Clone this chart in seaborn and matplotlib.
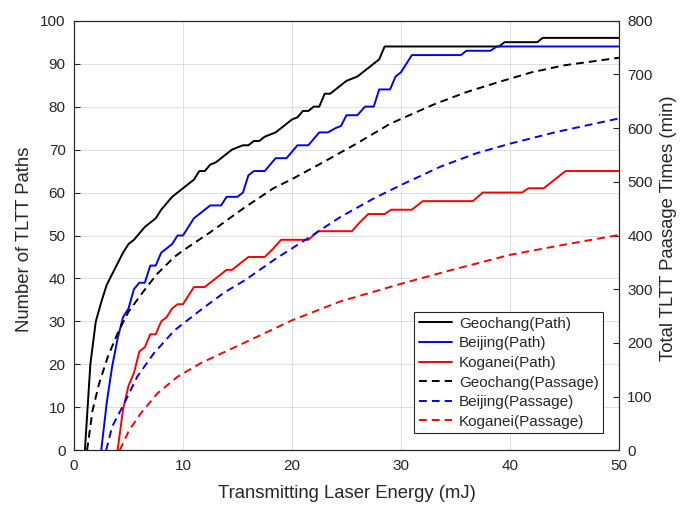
import numpy as np
import pandas as pd
import matplotlib
matplotlib.use("Agg")
import matplotlib.pyplot as plt
import seaborn as sns

# ---------------- data ----------------
geo_path_x = [1.0, 1.5, 2.0, 2.5, 3.0, 3.5, 4.0, 4.5, 5.0, 5.5, 6.0, 6.5, 7.0, 7.5, 8.0, 8.5,
              9.0, 9.5, 10.0, 10.5, 11.0, 11.5, 12.0, 12.5, 13.0, 13.5, 14.0, 14.5, 15.0, 15.5,
              16.0, 16.5, 17.0, 17.5, 18.0, 18.5, 19.0, 19.5, 20.0, 20.5, 21.0, 21.5, 22.0, 22.5,
              23.0, 23.5, 24.0, 24.5, 25.0, 25.5, 26.0, 26.5, 27.0, 27.5, 28.0, 28.5, 39.0, 39.5,
              42.5, 43.0, 50.0]
geo_path_y = [0, 20, 30, 34.5, 38.5, 41, 43.5, 46, 48, 49, 50.5, 52, 53, 54, 56, 57.5,
              59, 60, 61, 62, 63, 65, 65, 66.5, 67, 68, 69, 70, 70.5, 71,
              71, 72, 72, 73, 73.5, 74, 75, 76, 77, 77.5, 79, 79, 80, 80,
              83, 83, 84, 85, 86, 86.5, 87, 88, 89, 90, 91, 94, 94, 95,
              95, 96, 96]

bei_path_x = [2.5, 3.0, 3.5, 4.0, 4.5, 5.0, 5.5, 6.0, 6.5, 7.0, 7.5, 8.0, 8.5, 9.0, 9.5, 10.0,
              10.5, 11.0, 11.5, 12.0, 12.5, 13.5, 14.0, 15.0, 15.5, 16.0, 16.5, 17.5, 18.5, 19.5,
              20.5, 21.5, 22.5, 23.3, 24.0, 24.5, 25.0, 26.0, 26.7, 27.5, 28.0, 29.0, 29.5, 30.0,
              31.0, 35.5, 36.0, 38.2, 38.8, 50.0]
bei_path_y = [0, 11, 19.5, 26, 31, 33, 37.5, 39, 39, 43, 43, 46, 47, 48, 50, 50,
              52, 54, 55, 56, 57, 57, 59, 59, 60, 64, 65, 65, 68, 68,
              71, 71, 74, 74, 75, 75.5, 78, 78, 80, 80, 84, 84, 87, 88,
              92, 92, 93, 93, 94, 94]

kog_path_x = [4.0, 4.5, 5.0, 5.5, 6.0, 6.5, 7.0, 7.5, 8.0, 8.5, 9.0, 9.5, 10.0, 10.5, 11.0, 12.0,
              13.0, 14.0, 14.5, 16.0, 17.5, 18.3, 19.0, 21.5, 22.4, 25.5, 26.2, 27.0, 28.5, 29.1,
              31.0, 32.0, 36.6, 37.5, 41.1, 41.7, 43.1, 45.1, 50.0]
kog_path_y = [0, 9.5, 15, 18, 23, 24, 27, 27, 30, 31, 33, 34, 34, 36, 38, 38,
              40, 42, 42, 45, 45, 47, 49, 49, 51, 51, 53, 55, 55, 56,
              56, 58, 58, 60, 60, 61, 61, 65, 65]

geo_pass_x = [1.2, 1.7, 2.3, 3.1, 4.0, 5.0, 6.3, 7.6, 9.2, 10.0, 12.5, 15.5, 18.3, 20.0, 23.0,
              26.0, 29.0, 33.0, 36.0, 39.0, 42.0, 45.0, 50.0]
geo_pass_y = [0, 74, 124, 174, 218, 258, 294, 328, 360, 372, 406, 450, 488, 505, 538,
              572, 608, 644, 667, 686, 704, 717, 731]

bei_pass_x = [2.95, 3.5, 4.6, 5.8, 7.3, 9.2, 11.6, 13.8, 15.7, 18.6, 20.0, 21.7, 24.4, 27.5,
              30.0, 33.6, 36.9, 40.0, 44.3, 50.0]
bei_pass_y = [0, 44, 87, 137, 180, 223, 261, 294, 317, 358, 376, 398, 434, 469,
              494, 528, 553, 571, 593, 618]

kog_pass_x = [4.2, 5.05, 6.1, 7.65, 9.5, 11.6, 13.8, 15.5, 20.0, 24.4, 30.0, 34.5, 40.0, 45.0, 50.0]
kog_pass_y = [0, 37, 68, 106, 137, 162, 183, 199, 242, 277, 310, 335, 364, 383, 401]

sites = ["Geochang", "Beijing", "Koganei"]
site_colors = ["#000000", "#0000FF", "#FF0000"]

xlabel = "Transmitting Laser Energy (mJ)"
ylabel_left = "Number of TLTT Paths"
ylabel_right = "Total TLTT Paasage Times (min)"

path_data = [(geo_path_x, geo_path_y), (bei_path_x, bei_path_y), (kog_path_x, kog_path_y)]
pass_data = [(geo_pass_x, geo_pass_y), (bei_pass_x, bei_pass_y), (kog_pass_x, kog_pass_y)]

# ---------------- style ----------------
sns.set_theme(style="white")
plt.rcParams["font.family"] = ["Liberation Sans", "DejaVu Sans"]
dark = "#262626"

fig = plt.figure(figsize=(6.84, 5.07), dpi=100)
ax = fig.add_axes([74 / 684, 1 - 450.3 / 507, 545 / 684, 429.6 / 507])
ax2 = ax.twinx()

lw = 1.4
for site, col, (px, py) in zip(sites, site_colors, path_data):
    df = pd.DataFrame({"x": px, "y": py})
    sns.lineplot(data=df, x="x", y="y", ax=ax, color=col, linewidth=lw,
                 estimator=None, sort=False, label=f"{site}(Path)", legend=False)

for site, col, (px, py) in zip(sites, site_colors, pass_data):
    df = pd.DataFrame({"x": px, "y": py})
    sns.lineplot(data=df, x="x", y="y", ax=ax2, color=col, linewidth=lw,
                 estimator=None, sort=False, label=f"{site}(Passage)", legend=False,
                 dashes=False)
for line in ax2.get_lines():
    line.set_dashes((4, 2.6))

ax.set_xlim(0, 50)
ax.set_ylim(0, 100)
ax2.set_ylim(0, 800)
ax.set_xticks(np.arange(0, 51, 10))
ax.set_yticks(np.arange(0, 101, 10))
ax2.set_yticks(np.arange(0, 801, 100))

ax.grid(True, color="#dedede", linewidth=0.7)
ax.set_axisbelow(True)

for a in (ax, ax2):
    for s in a.spines.values():
        s.set_color(dark)
        s.set_linewidth(0.8)
ax.tick_params(axis="both", direction="in", length=4, width=0.8, colors=dark,
               labelsize=11, pad=6)
ax.tick_params(axis="y", right=False)
ax2.tick_params(axis="y", direction="in", length=4, width=0.8, colors=dark,
                labelsize=11, pad=6)

ax.set_xlabel(xlabel, fontsize=13.3, color=dark)
ax.set_ylabel(ylabel_left, fontsize=13.3, color=dark)
ax2.set_ylabel(ylabel_right, fontsize=13.3, color=dark)
ax.xaxis.set_label_coords(0.5, -0.080)
ax.yaxis.set_label_coords(-0.075, 0.49)
ax2.yaxis.set_label_coords(1.075, 0.517)

handles = ax.get_lines()[:3] + ax2.get_lines()[:3]
labels = [h.get_label() for h in handles]
leg = ax2.legend(handles, labels, loc="lower right", bbox_to_anchor=(0.971, 0.040),
                 borderaxespad=0, fontsize=11, frameon=True, fancybox=False,
                 edgecolor=dark, framealpha=1, handlelength=2.2, handletextpad=0.45,
                 labelspacing=0.37, borderpad=0.28)
leg.get_frame().set_linewidth(0.8)

fig.savefig("out.png", dpi=100)
